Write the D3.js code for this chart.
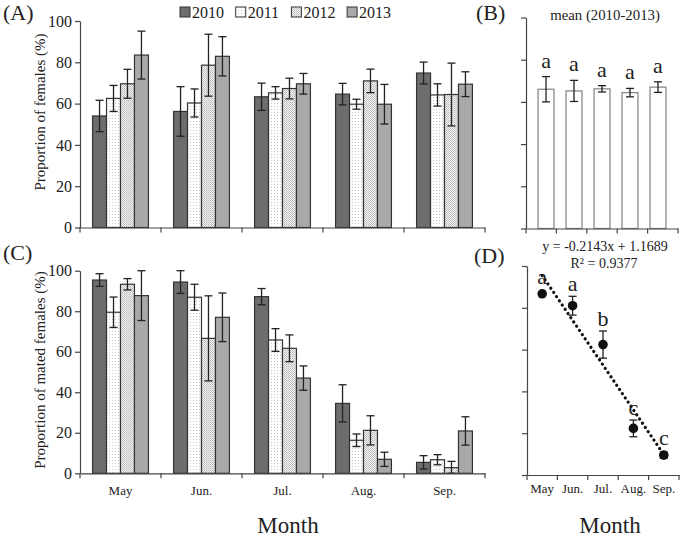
<!DOCTYPE html>
<html>
<head>
<meta charset="utf-8">
<script src="https://cdn.jsdelivr.net/npm/d3@7"></script>
<style>
  body { margin: 0; background: #fff; }
  svg, svg text { font-family: "Liberation Serif", "DejaVu Serif", "Times New Roman", serif; }
</style>
</head>
<body>
<svg width="683" height="540"></svg>
<script>
const months = ["May", "Jun.", "Jul.", "Aug.", "Sep."];
const years = ["2010", "2011", "2012", "2013"];

// (A) proportion of females (%), one array per year, May..Sep
const females2010 = [54, 56.2, 63.3, 64.6, 74.8];
const females2011 = [62.5, 60.3, 65.2, 59.7, 64.2];
const females2012 = [69.6, 78.6, 67.3, 71, 64.4];
const females2013 = [83.5, 82.9, 69.6, 59.7, 69.4];
const femalesErr2010 = [7.6, 12, 6.6, 5.2, 5.3];
const femalesErr2011 = [6.3, 6.8, 3, 2.4, 5.4];
const femalesErr2012 = [7, 15, 5, 5.7, 15.2];
const femalesErr2013 = [11.6, 9.5, 5, 9.6, 6];

// (B) mean 2010-2013
const femalesMean = [66, 65.2, 66.2, 64.4, 67];
const femalesMeanErr = [6, 5, 1.5, 2, 2.5];
const femalesLetters = ["a", "a", "a", "a", "a"];

// (C) proportion of mated females (%)
const mated2010 = [95.4, 94.4, 87.2, 34.5, 5.4];
const mated2011 = [79.5, 86.9, 65.8, 16.3, 6.7];
const mated2012 = [93.3, 66.6, 61.7, 21.2, 2.8];
const mated2013 = [87.7, 77, 47, 6.9, 20.9];
const matedErr2010 = [3.1, 5.6, 4, 9.2, 3.3];
const matedErr2011 = [7.5, 6.4, 5.6, 3.1, 2.5];
const matedErr2012 = [2.8, 21, 6.6, 7.2, 3.1];
const matedErr2013 = [12.3, 12, 6, 3.5, 7];

// (D) mean proportion mated + regression
const matedMean = [0.867, 0.81, 0.624, 0.223, 0.095];
const matedMeanErr = [0, 0.045, 0.065, 0.04, 0.015];
const matedLetters = ["a", "a", "b", "c", "c"];
const slope = -0.2143, intercept = 1.1689;
const trendText = ["y = -0.2143x + 1.1689", "R\u00b2 = 0.9377"];

const svg = d3.select("svg");
const ink = "#222", axisCol = "#444";
const serif = "Liberation Serif, DejaVu Serif, serif";

// fill patterns
const defs = svg.append("defs");
const p11 = defs.append("pattern").attr("id", "p2011")
    .attr("width", 3).attr("height", 3).attr("patternUnits", "userSpaceOnUse");
p11.append("rect").attr("width", 3).attr("height", 3).attr("fill", "#fff");
p11.append("rect").attr("x", 1).attr("y", 1).attr("width", 1).attr("height", 1).attr("fill", "#c8c8c8");
const p12 = defs.append("pattern").attr("id", "p2012")
    .attr("width", 2).attr("height", 2).attr("patternUnits", "userSpaceOnUse");
p12.append("rect").attr("width", 2).attr("height", 2).attr("fill", "#f4f4f4");
p12.append("rect").attr("width", 1).attr("height", 1).attr("fill", "#b8b8b8");
p12.append("rect").attr("x", 1).attr("y", 1).attr("width", 1).attr("height", 1).attr("fill", "#c8c8c8");

const yearFill = {"2010": "#6d6d6d", "2011": "url(#p2011)", "2012": "url(#p2012)", "2013": "#a9a9a9"};

function styleAxis(g) {
    g.attr("font-family", serif);
    g.selectAll("path, line").attr("stroke", axisCol).attr("stroke-width", 1.2);
    g.selectAll("text").attr("fill", ink).attr("font-family", serif).attr("font-size", 15);
}

function errorBar(g, cx, y0, y1, cap) {
    g.append("line").attr("x1", cx).attr("x2", cx).attr("y1", y0).attr("y2", y1)
        .attr("stroke", ink).attr("stroke-width", 1.3);
    [y0, y1].forEach(yy => g.append("line")
        .attr("x1", cx - cap / 2).attr("x2", cx + cap / 2).attr("y1", yy).attr("y2", yy)
        .attr("stroke", ink).attr("stroke-width", 1.3));
}

function groupedPanel(yRange, values, errs, showLabels) {
    const g = svg.append("g");
    const x = d3.scaleBand().domain(months).range([80, 485]);
    const xs = d3.scaleBand().domain(years).range([0, x.bandwidth()]).paddingOuter(0.9);
    const y = d3.scaleLinear().domain([0, 100]).range(yRange);

    const rows = [];
    years.forEach((yr, j) => months.forEach((m, i) =>
        rows.push({month: m, year: yr, v: values[j][i], e: errs[j][i]})));

    g.selectAll("rect.bar").data(rows).enter().append("rect")
        .attr("class", "bar")
        .attr("x", d => x(d.month) + xs(d.year))
        .attr("width", xs.bandwidth())
        .attr("y", d => y(d.v))
        .attr("height", d => y(0) - y(d.v))
        .attr("fill", d => yearFill[d.year])
        .attr("stroke", "#333").attr("stroke-width", 1.2);

    rows.forEach(d => {
        const cx = x(d.month) + xs(d.year) + xs.bandwidth() / 2;
        errorBar(g, cx, y(Math.max(0, d.v - d.e)), y(Math.min(100, d.v + d.e)), 8);
    });

    const ya = g.append("g").attr("transform", "translate(80,0)")
        .call(d3.axisLeft(y).tickValues([0, 20, 40, 60, 80, 100]).tickSize(5).tickSizeOuter(0).tickPadding(3));
    styleAxis(ya);
    ya.selectAll("text").attr("font-size", 16);

    const xa = g.append("g").attr("transform", `translate(0,${y(0)})`)
        .call(d3.axisBottom(x).tickSize(0).tickSizeOuter(0).tickPadding(12));
    styleAxis(xa);
    xa.selectAll("text").attr("font-size", 13).style("display", showLabels ? null : "none");
    const edges = months.map(m => x(m)).concat([x(months[4]) + x.bandwidth()]);
    g.selectAll("line.edge").data(edges).enter().append("line")
        .attr("x1", d => d).attr("x2", d => d)
        .attr("y1", y(0)).attr("y2", y(0) + 5)
        .attr("stroke", axisCol).attr("stroke-width", 1.2);
}

groupedPanel([227.5, 21],
    [females2010, females2011, females2012, females2013],
    [femalesErr2010, femalesErr2011, femalesErr2012, femalesErr2013], false);
groupedPanel([473.3, 270.7],
    [mated2010, mated2011, mated2012, mated2013],
    [matedErr2010, matedErr2011, matedErr2012, matedErr2013], true);

// small panels share month bands
function smallX(g, x, y0) {
    const xa = g.append("g").attr("transform", `translate(0,${y0})`)
        .call(d3.axisBottom(x).tickSize(0).tickSizeOuter(0).tickPadding(9));
    styleAxis(xa);
    const edges = months.map(m => x(m)).concat([x(months[4]) + x.bandwidth()]);
    g.selectAll("line.edge").data(edges).enter().append("line")
        .attr("x1", d => d).attr("x2", d => d)
        .attr("y1", y0).attr("y2", y0 + 5)
        .attr("stroke", axisCol).attr("stroke-width", 1.2);
    return xa;
}

// (B)
{
    const g = svg.append("g");
    const x = d3.scaleBand().domain(months).range([526, 678]).padding(0.43);
    const xb = d3.scaleBand().domain(months).range([526, 678]);
    const y = d3.scaleLinear().domain([0, 100]).range([228.5, 17.5]);
    g.selectAll("rect").data(femalesMean).enter().append("rect")
        .attr("x", (d, i) => x(months[i]))
        .attr("width", x.bandwidth())
        .attr("y", d => y(d))
        .attr("height", d => y(0) - y(d))
        .attr("fill", "#fff").attr("stroke", "#8a8a8a").attr("stroke-width", 1.3);
    femalesMean.forEach((v, i) => {
        const cx = x(months[i]) + x.bandwidth() / 2;
        errorBar(g, cx, y(v - femalesMeanErr[i]), y(v + femalesMeanErr[i]), 8);
        g.append("text").attr("x", cx).attr("y", y(v + femalesMeanErr[i]) - 9)
            .attr("text-anchor", "middle").attr("font-size", 22).attr("fill", ink)
            .text(femalesLetters[i]);
    });
    const ya = g.append("g").attr("transform", "translate(526,0)")
        .call(d3.axisLeft(y).tickValues([0, 20, 40, 60, 80, 100]).tickSize(5).tickSizeOuter(0).tickFormat(""));
    styleAxis(ya);
    const xa = smallX(g, xb, y(0));
    xa.selectAll("text").remove();
    g.append("text").attr("x", 605).attr("y", 20).attr("text-anchor", "middle")
        .attr("font-size", 14.8).attr("fill", ink).text("mean (2010-2013)");
}

// (D)
{
    const g = svg.append("g");
    const x = d3.scaleBand().domain(months).range([527, 679]);
    const y = d3.scaleLinear().domain([0, 1]).range([475, 266]);
    const xi = d3.scaleLinear().domain([1, 5])
        .range([x(months[0]) + x.bandwidth() / 2, x(months[4]) + x.bandwidth() / 2]);

    const trend = [1, 5].map(t => [xi(t), y(slope * t + intercept)]);
    g.append("path").attr("d", d3.line()(trend))
        .attr("fill", "none").attr("stroke", "#111").attr("stroke-width", 3.2)
        .attr("stroke-linecap", "round").attr("stroke-dasharray", "0.1 5");

    matedMean.forEach((v, i) => {
        const cx = x(months[i]) + x.bandwidth() / 2;
        if (matedMeanErr[i] > 0) errorBar(g, cx, y(v - matedMeanErr[i]), y(v + matedMeanErr[i]), 8);
        g.append("circle").attr("cx", cx).attr("cy", y(v)).attr("r", 4.8).attr("fill", "#111");
        const top = Math.min(y(v + matedMeanErr[i]), y(v) - 4.8);
        g.append("text").attr("x", cx).attr("y", top - 5)
            .attr("text-anchor", "middle").attr("font-size", 22).attr("fill", ink)
            .text(matedLetters[i]);
    });

    const ya = g.append("g").attr("transform", "translate(527,0)")
        .call(d3.axisLeft(y).tickValues([0, 0.2, 0.4, 0.6, 0.8, 1]).tickSize(5).tickSizeOuter(0).tickFormat(""));
    styleAxis(ya);
    const xa = smallX(g, x, y(0));
    xa.selectAll("text").attr("font-size", 13);

    g.append("text").attr("x", 605).attr("y", 251).attr("text-anchor", "middle")
        .attr("font-size", 14).attr("fill", ink).text(trendText[0]);
    g.append("text").attr("x", 604).attr("y", 267.5).attr("text-anchor", "middle")
        .attr("font-size", 14).attr("fill", ink).text(trendText[1]);
}

// legend
years.forEach((yr, i) => {
    const lx = 180 + i * 55.7;
    svg.append("rect").attr("x", lx).attr("y", 7).attr("width", 10).attr("height", 10)
        .attr("fill", yearFill[yr]).attr("stroke", "#333").attr("stroke-width", 1);
    svg.append("text").attr("x", lx + 12).attr("y", 18).attr("font-size", 16)
        .attr("fill", ink).text(yr);
});

// panel letters
[["(A)", 3, 20], ["(B)", 476, 20], ["(C)", 3, 260], ["(D)", 474, 263]].forEach(([t, px, py]) =>
    svg.append("text").attr("x", px).attr("y", py).attr("font-size", 22).attr("fill", ink).text(t));

// axis titles
svg.append("text").attr("transform", "translate(45,112) rotate(-90)")
    .attr("text-anchor", "middle").attr("font-size", 15).attr("fill", ink)
    .text("Proportion of females (%)");
svg.append("text").attr("transform", "translate(45,370) rotate(-90)")
    .attr("text-anchor", "middle").attr("font-size", 15).attr("fill", ink)
    .text("Proportion of mated females (%)");
svg.append("text").attr("x", 288).attr("y", 533).attr("text-anchor", "middle")
    .attr("font-size", 23).attr("fill", ink).text("Month");
svg.append("text").attr("x", 610).attr("y", 533).attr("text-anchor", "middle")
    .attr("font-size", 23).attr("fill", ink).text("Month");
</script>
</body>
</html>
